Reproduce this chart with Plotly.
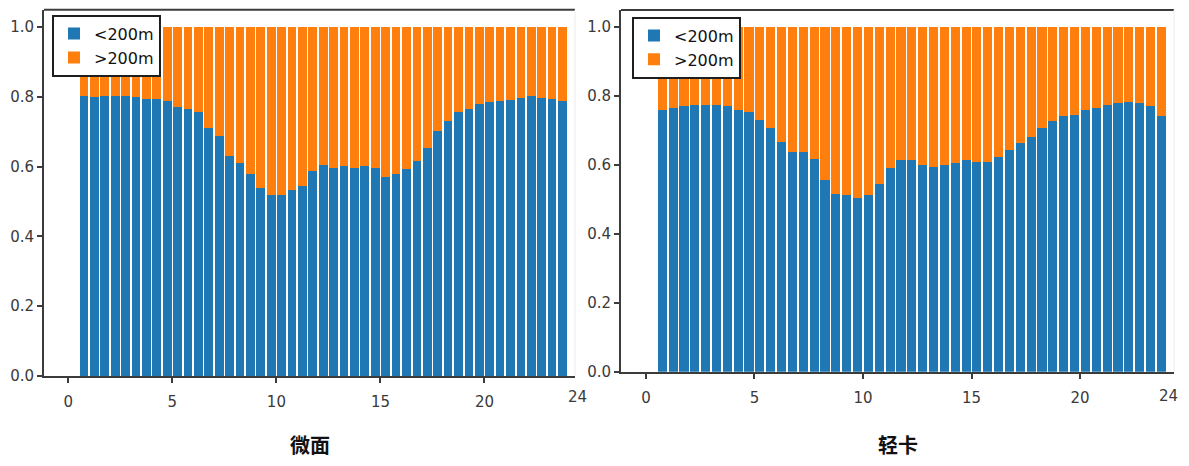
import plotly.graph_objects as go

# Half-hour time slots (bar centres, hours)
slots = [0.75 + 0.5 * i for i in range(47)]

# Share of trips under 200 m, per slot
weimian_lt200 = [0.804, 0.800, 0.804, 0.804, 0.804, 0.800, 0.794, 0.794, 0.789, 0.771,
                 0.766, 0.758, 0.713, 0.688, 0.631, 0.611, 0.581, 0.539, 0.519, 0.519,
                 0.535, 0.544, 0.587, 0.607, 0.596, 0.602, 0.596, 0.602, 0.596, 0.572,
                 0.581, 0.593, 0.616, 0.655, 0.703, 0.733, 0.757, 0.766, 0.780, 0.785,
                 0.789, 0.792, 0.799, 0.803, 0.799, 0.794, 0.789]
qingka_lt200 = [0.760, 0.765, 0.770, 0.774, 0.774, 0.774, 0.770, 0.760, 0.755, 0.731,
                0.708, 0.667, 0.639, 0.639, 0.619, 0.557, 0.517, 0.513, 0.503, 0.513,
                0.546, 0.591, 0.614, 0.614, 0.600, 0.595, 0.600, 0.605, 0.614, 0.608,
                0.608, 0.624, 0.644, 0.663, 0.682, 0.708, 0.727, 0.741, 0.746, 0.760,
                0.765, 0.774, 0.779, 0.784, 0.779, 0.770, 0.741]

# Remaining share (over 200 m)
weimian_gt200 = [round(1 - v, 3) for v in weimian_lt200]
qingka_gt200 = [round(1 - v, 3) for v in qingka_lt200]

series_names = ["<200m", ">200m"]
panel_titles = ["微面", "轻卡"]
x_ticks = [0, 5, 10, 15, 20]
y_ticks = [0.0, 0.2, 0.4, 0.6, 0.8, 1.0]

BLUE = "#1f77b4"
ORANGE = "#ff7f0e"
TICK_FONT = dict(family="DejaVu Sans", size=15, color="#3a3a3a")
AXIS_COLOR = "#3c3c3c"

fig = go.Figure()

panels = [
    ("x", "y", "legend", weimian_lt200, weimian_gt200),
    ("x2", "y2", "legend2", qingka_lt200, qingka_gt200),
]
for xa, ya, lg, low, high in panels:
    fig.add_trace(go.Bar(x=slots, y=low, name=series_names[0], marker_color=BLUE,
                         marker_line_width=0, width=0.42, xaxis=xa, yaxis=ya,
                         legend=lg, showlegend=True))
    fig.add_trace(go.Bar(x=slots, y=high, name=series_names[1], marker_color=ORANGE,
                         marker_line_width=0, width=0.42, xaxis=xa, yaxis=ya,
                         legend=lg, showlegend=True))

W, H = 1189, 466

def xaxis_cfg(domain, rng):
    return dict(domain=domain, range=rng, tickmode="array", tickvals=x_ticks,
                ticks="outside", ticklen=5, tickwidth=1.5, tickcolor=AXIS_COLOR,
                showline=True, linecolor=AXIS_COLOR, linewidth=2, showgrid=False,
                zeroline=False, tickfont=TICK_FONT, ticklabelstandoff=6,
                fixedrange=True)

def yaxis_cfg(domain, anchor):
    return dict(domain=domain, range=[0, 1.05], tickmode="array", tickvals=y_ticks,
                tickformat=".1f", ticks="outside", ticklen=5, tickwidth=1.5,
                tickcolor=AXIS_COLOR, showline=True, linecolor=AXIS_COLOR,
                linewidth=2, showgrid=False, zeroline=False, tickfont=TICK_FONT,
                anchor=anchor, fixedrange=True)

left_x = [44 / W, 575 / W]
right_x = [621 / W, 1174 / W]
left_y = [1 - 383.3 / H, 1 - 9.9 / H]
right_y = [1 - 379 / H, 1 - 10.1 / H]

legend_style = dict(bgcolor="white", bordercolor="#1e1e1e", borderwidth=2,
                    font=dict(family="DejaVu Sans", size=16, color="#111"),
                    xanchor="left", yanchor="top", traceorder="normal",
                    tracegroupgap=0, itemclick=False, itemdoubleclick=False)

fig.update_layout(
    width=W, height=H,
    margin=dict(l=0, r=0, t=0, b=0),
    paper_bgcolor="white", plot_bgcolor="white",
    barmode="stack", bargap=0,
    xaxis=xaxis_cfg(left_x, [-1.17, 24.35]) | dict(anchor="y"),
    yaxis=yaxis_cfg(left_y, "x"),
    xaxis2=xaxis_cfg(right_x, [-1.15, 24.33]) | dict(anchor="y2"),
    yaxis2=yaxis_cfg(right_y, "x2"),
    legend=legend_style | dict(x=52 / W, y=1 - 15 / H),
    legend2=legend_style | dict(x=632 / W, y=1 - 17 / H),
)

# top spines and a faint right edge
for xr, yr in (("x domain", "y domain"), ("x2 domain", "y2 domain")):
    fig.add_shape(type="line", xref=xr, yref=yr, x0=0, x1=1, y0=1, y1=1,
                  line=dict(color=AXIS_COLOR, width=2))
    fig.add_shape(type="line", xref=xr, yref=yr, x0=1, x1=1, y0=0, y1=1,
                  line=dict(color="#ececec", width=1))

# trailing "24" label past the end of each time axis
fig.add_annotation(x=577 / W, xref="paper", y=1 - 405 / H, yref="paper", text="24",
                   showarrow=False, font=TICK_FONT, xanchor="center", yanchor="middle")
fig.add_annotation(x=1168 / W, xref="paper", y=1 - 404 / H, yref="paper", text="24",
                   showarrow=False, font=TICK_FONT, xanchor="center", yanchor="middle")

# panel captions
for dom, title in ((left_x, panel_titles[0]), (right_x, panel_titles[1])):
    fig.add_annotation(x=(dom[0] + dom[1]) / 2, xref="paper", y=1 - 453 / H, yref="paper",
                       text=title, showarrow=False, xanchor="center", yanchor="middle",
                       font=dict(family="Noto Sans CJK SC", size=20, color="#111", weight=700))

fig.write_html("out.html", config={"displayModeBar": False})
